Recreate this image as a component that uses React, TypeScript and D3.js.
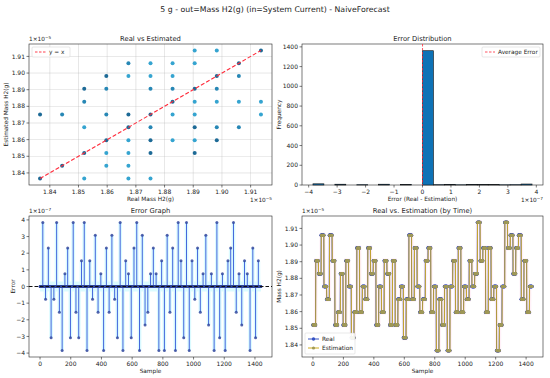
import React from 'react';
import * as d3 from 'd3';

// mass levels (x1e-5 g) seen on the charts
const LEVELS = [1.8366, 1.8443, 1.852, 1.8597, 1.8674, 1.8751, 1.8828, 1.8905, 1.8982, 1.9059, 1.9136];
// real value held for each block of samples, as index into LEVELS
const STEP_IDX = [
  2, 7, 6, 9, 5, 4, 9, 7, 2, 3, 6, 2, 7, 5, 1, 3, 8, 3, 5, 4,
  8, 6, 7, 2, 5, 3, 7, 6, 2, 7, 2, 4, 5, 1, 4, 9, 4, 8, 5, 3,
  4, 7, 8, 3, 5, 0, 4, 2, 5, 0, 5, 7, 3, 8, 3, 5, 4, 7, 5, 6,
  10, 7, 8, 3, 8, 4, 5, 0, 2, 5, 10, 8, 9, 6, 8, 9, 4, 7, 3, 5,
];
const SAMPLES_PER_STEP = 18;
const MASS_TICKS = [1.84, 1.85, 1.86, 1.87, 1.88, 1.89, 1.9, 1.91];
const ERR_TICKS = [-4, -3, -2, -1, 0, 1, 2, 3, 4];
const FREQ_TICKS = [0, 200, 400, 600, 800, 1000, 1200, 1400];
const SAMPLE_TICKS = [0, 200, 400, 600, 800, 1000, 1200, 1400];
const N_BINS = 20;

const real: number[] = [];
STEP_IDX.forEach(k => { for (let j = 0; j < SAMPLES_PER_STEP; j++) real.push(LEVELS[k]); });
const est = real.map((v, i) => (i === 0 ? v : real[i - 1]));
const err = real.map((v, i) => (v - est[i]) * 100); // in 1e-7 units
const idx = real.map((_, i) => i);
const meanErr = d3.mean(err) as number;

const FONT = 'DejaVu Sans, sans-serif';
const TICK_FS = 6;
const minus = (s: string) => s.replace('-', '\u2212');

const pad = (lo: number, hi: number) => { const m = (hi - lo) * 0.05; return [lo - m, hi + m]; };

const P1 = { x0: 29, x1: 272, y0: 44, y1: 185 };
const P2 = { x0: 302, x1: 543, y0: 44, y1: 185 };
const P3 = { x0: 29, x1: 272, y0: 216, y1: 357 };
const P4 = { x0: 302, x1: 543, y0: 216, y1: 357 };

const Offset = ({ x, y, exp, anchor }) => (
  <text x={x} y={y} fontSize={5.8} textAnchor={anchor} fill="#222">
    1×10<tspan dy={-2.2} fontSize={4.2}>{minus(exp)}</tspan>
  </text>
);

const Axes = ({ p, xs, ys, xt, yt, xfmt, yfmt, title, xlabel, ylabel, grid }) => (
  <g fontFamily={FONT}>
    {grid && xt.map(t => <line key={'gx' + t} x1={xs(t)} x2={xs(t)} y1={p.y0} y2={p.y1} stroke="#b0b0b0" strokeWidth={0.5} opacity={0.6} />)}
    {grid && yt.map(t => <line key={'gy' + t} x1={p.x0} x2={p.x1} y1={ys(t)} y2={ys(t)} stroke="#b0b0b0" strokeWidth={0.5} opacity={0.6} />)}
    <rect x={p.x0} y={p.y0} width={p.x1 - p.x0} height={p.y1 - p.y0} fill="none" stroke="#222" strokeWidth={0.6} />
    {xt.map(t => (
      <g key={'x' + t}>
        <line x1={xs(t)} x2={xs(t)} y1={p.y1} y2={p.y1 + 2.5} stroke="#222" strokeWidth={0.6} />
        <text x={xs(t)} y={p.y1 + 8.8} fontSize={TICK_FS} textAnchor="middle" fill="#222">{xfmt(t)}</text>
      </g>
    ))}
    {yt.map(t => (
      <g key={'y' + t}>
        <line x1={p.x0 - 2.5} x2={p.x0} y1={ys(t)} y2={ys(t)} stroke="#222" strokeWidth={0.6} />
        <text x={p.x0 - 4} y={ys(t) + 2.1} fontSize={TICK_FS} textAnchor="end" fill="#222">{yfmt(t)}</text>
      </g>
    ))}
    <text x={(p.x0 + p.x1) / 2} y={p.y0 - 3} fontSize={6.8} textAnchor="middle" fill="#222">{title}</text>
    <text x={(p.x0 + p.x1) / 2} y={p.y1 + 15.5} fontSize={5.8} textAnchor="middle" fill="#222">{xlabel}</text>
    <text transform={`translate(${p.x0 - (p === P3 ? 14 : 21)},${(p.y0 + p.y1) / 2}) rotate(-90)`} fontSize={5.8} textAnchor="middle" fill="#222">{ylabel}</text>
  </g>
);

const App = () => {
  const W = 550, H = 378;
  const massDom = pad(LEVELS[0], LEVELS[LEVELS.length - 1]);
  const errExt = d3.extent(err) as [number, number];

  // panel 1: scatter
  const x1 = d3.scaleLinear().domain(massDom).range([P1.x0, P1.x1]);
  const y1 = d3.scaleLinear().domain(massDom).range([P1.y1, P1.y0]);
  const pairs = d3.rollups(idx, v => v.length, i => real[i] + '|' + est[i]);
  const dotColor = (n: number) => (n >= 3 ? '#1d6a96' : n === 2 ? '#2787b5' : '#35a4d0');

  // panel 2: histogram
  const step = (errExt[1] - errExt[0]) / N_BINS;
  const bins = d3.bin().domain(errExt).thresholds(d3.range(1, N_BINS).map(i => errExt[0] + i * step))(err);
  const x2 = d3.scaleLinear().domain(pad(errExt[0], errExt[1])).range([P2.x0, P2.x1]);
  const maxCount = d3.max(bins, b => b.length) as number;
  const y2 = d3.scaleLinear().domain([0, maxCount * 1.05]).range([P2.y1, P2.y0]);

  // panel 3: error stem
  const x3 = d3.scaleLinear().domain(pad(0, real.length - 1)).range([P3.x0, P3.x1]);
  const y3 = d3.scaleLinear().domain(pad(errExt[0], errExt[1])).range([P3.y1, P3.y0]);
  const win = 12;
  const band = idx.map(i => {
    const s = err.slice(Math.max(0, i - win), i + win + 1);
    return { i, lo: Math.min(d3.min(s) as number, -0.3), hi: Math.max(d3.max(s) as number, 0.3) };
  });
  const bandArea = d3.area<any>().x(d => x3(d.i)).y0(d => y3(d.lo)).y1(d => y3(d.hi));

  // panel 4: time series
  const x4 = d3.scaleLinear().domain(pad(0, real.length - 1)).range([P4.x0, P4.x1]);
  const y4 = d3.scaleLinear().domain(massDom).range([P4.y1, P4.y0]);
  const band4 = idx.map(i => {
    const s = est.slice(Math.max(0, i - win), i + win + 1);
    return { i, lo: (d3.min(s) as number) - 0.0015, hi: (d3.max(s) as number) + 0.0015 };
  });
  const bandArea4 = d3.area<any>().x(d => x4(d.i)).y0(d => y4(d.lo)).y1(d => y4(d.hi));
  const lineReal = d3.line<number>().x(i => x4(i)).y(i => y4(real[i]));
  const lineEst = d3.line<number>().x(i => x4(i)).y(i => y4(est[i]));

  const f2 = (t: number) => t.toFixed(2);
  const fi = (t: number) => minus(String(t));

  return (
    <svg width={W} height={H} style={{ position: 'absolute', left: 0, top: 0, background: '#fff' }} fontFamily={FONT}>
      <text x={W / 2} y={12} fontSize={7.8} textAnchor="middle" fill="#222">5 g - out=Mass H2(g) (in=System Current) - NaiveForecast</text>

      {/* Real vs Estimated */}
      <Axes p={P1} xs={x1} ys={y1} xt={MASS_TICKS} yt={MASS_TICKS} xfmt={f2} yfmt={f2} grid
        title="Real vs Estimated" xlabel="Real Mass H2(g)" ylabel="Estimated Mass H2(g)" />
      <g>
        {pairs.map(([key, n]) => {
          const [r, e] = key.split('|').map(Number);
          return <circle key={key} cx={x1(r)} cy={y1(e)} r={2} fill={dotColor(n)} />;
        })}
        <line x1={x1(LEVELS[0])} y1={y1(LEVELS[0])} x2={x1(LEVELS[LEVELS.length - 1])} y2={y1(LEVELS[LEVELS.length - 1])}
          stroke="#ff2a3a" strokeWidth={1.1} strokeDasharray="4,2" />
      </g>
      <g fontFamily={FONT}>
        <rect x={P1.x0 + 3} y={P1.y0 + 3} width={38} height={10} fill="#fff" stroke="#ccc" strokeWidth={0.5} rx={1} />
        <line x1={P1.x0 + 6} x2={P1.x0 + 17} y1={P1.y0 + 8} y2={P1.y0 + 8} stroke="#ff2a3a" strokeWidth={0.9} strokeDasharray="2.5,1.5" />
        <text x={P1.x0 + 20} y={P1.y0 + 10} fontSize={5.8} fill="#222">y = x</text>
      </g>
      <Offset x={P1.x0} y={P1.y0 - 3} exp="-5" anchor="start" />
      <Offset x={P1.x1} y={P1.y1 + 17} exp="-5" anchor="end" />

      {/* Error Distribution */}
      <Axes p={P2} xs={x2} ys={y2} xt={ERR_TICKS} yt={FREQ_TICKS} xfmt={fi} yfmt={String}
        title="Error Distribution" xlabel="Error (Real - Estimation)" ylabel="Frequency" />
      <g>
        {bins.map((b, i) => b.length > 0 && (
          <rect key={i} x={x2(b.x0 as number)} y={y2(b.length)} width={x2(b.x1 as number) - x2(b.x0 as number)}
            height={y2(0) - y2(b.length)} fill="#0e72b6" stroke="#111" strokeWidth={0.6} />
        ))}
        <line x1={x2(meanErr)} x2={x2(meanErr)} y1={P2.y0} y2={P2.y1} stroke="#ff2a3a" strokeWidth={0.8} strokeDasharray="2.5,1.5" />
      </g>
      <g fontFamily={FONT}>
        <rect x={P2.x1 - 61} y={P2.y0 + 3} width={58} height={10} fill="#fff" stroke="#ccc" strokeWidth={0.5} rx={1} />
        <line x1={P2.x1 - 58} x2={P2.x1 - 48} y1={P2.y0 + 8} y2={P2.y0 + 8} stroke="#ff2a3a" strokeWidth={0.8} strokeDasharray="2.5,1.5" />
        <text x={P2.x1 - 45} y={P2.y0 + 10} fontSize={5.8} fill="#222">Average Error</text>
      </g>
      <Offset x={P2.x1} y={P2.y1 + 17} exp="-7" anchor="end" />

      {/* Error Graph */}
      <Axes p={P3} xs={x3} ys={y3} xt={SAMPLE_TICKS} yt={ERR_TICKS} xfmt={String} yfmt={fi}
        title="Error Graph" xlabel="Sample" ylabel="Error" />
      <g>
        <path d={bandArea(band) as string} fill="#00e5ff" opacity={0.14} />
        {idx.filter(i => err[i] !== 0).map(i => (
          <line key={i} x1={x3(i)} x2={x3(i)} y1={y3(0)} y2={y3(err[i])} stroke="#4466dc" strokeWidth={1} />
        ))}
        {idx.map(i => <circle key={i} cx={x3(i)} cy={y3(err[i])} r={1.5} fill="#34499e" opacity={0.85} />)}
        <line x1={P3.x0} x2={P3.x1} y1={y3(0)} y2={y3(0)} stroke="#111" strokeWidth={1} strokeDasharray="3.5,2" />
      </g>
      <Offset x={P3.x0} y={P3.y0 - 3} exp="-7" anchor="start" />

      {/* Real vs Estimation (by Time) */}
      <Axes p={P4} xs={x4} ys={y4} xt={SAMPLE_TICKS} yt={MASS_TICKS} xfmt={String} yfmt={f2}
        title="Real vs. Estimation (by Time)" xlabel="Sample" ylabel="Mass H2(g)" />
      <g>
        <path d={bandArea4(band4) as string} fill="#ff8fd0" opacity={0.13} />
        <path d={lineReal(idx) as string} fill="none" stroke="#3552c4" strokeWidth={1} />
        {idx.map(i => <circle key={'r' + i} cx={x4(i)} cy={y4(real[i])} r={1.7} fill="#3552c4" />)}
        <path d={lineEst(idx) as string} fill="none" stroke="#cfac1e" strokeWidth={1} opacity={0.9} />
        {idx.map(i => <circle key={'e' + i} cx={x4(i)} cy={y4(est[i])} r={1.6} fill="#a09a58" opacity={0.6} />)}
      </g>
      <g fontFamily={FONT}>
        <rect x={P4.x0 + 3} y={P4.y1 - 24} width={50} height={21} fill="#fff" stroke="#ccc" strokeWidth={0.5} rx={1} opacity={0.9} />
        <line x1={P4.x0 + 6} x2={P4.x0 + 17} y1={P4.y1 - 18} y2={P4.y1 - 18} stroke="#3552c4" strokeWidth={1} />
        <circle cx={P4.x0 + 11.5} cy={P4.y1 - 18} r={1.7} fill="#3552c4" />
        <text x={P4.x0 + 20} y={P4.y1 - 16} fontSize={5.8} fill="#222">Real</text>
        <line x1={P4.x0 + 6} x2={P4.x0 + 17} y1={P4.y1 - 9} y2={P4.y1 - 9} stroke="#cfac1e" strokeWidth={1} />
        <circle cx={P4.x0 + 11.5} cy={P4.y1 - 9} r={1.6} fill="#a09a58" />
        <text x={P4.x0 + 20} y={P4.y1 - 7} fontSize={5.8} fill="#222">Estimation</text>
      </g>
      <Offset x={P4.x0} y={P4.y0 - 3} exp="-5" anchor="start" />
    </svg>
  );
};

export default App;
